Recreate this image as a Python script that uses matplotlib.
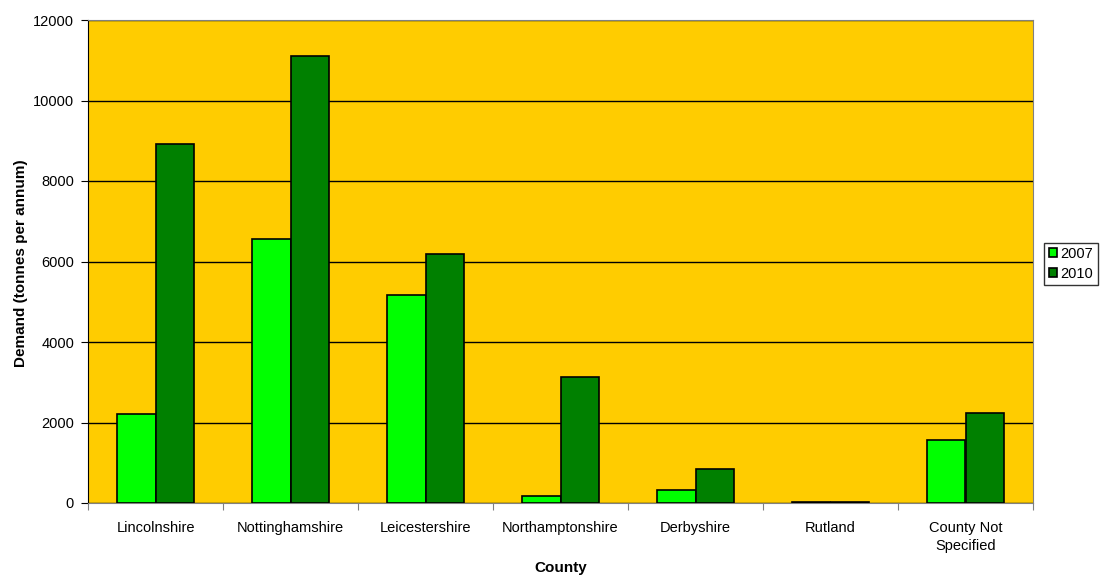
import numpy as np
import matplotlib.pyplot as plt

plt.rcParams['font.family'] = ['Liberation Sans', 'DejaVu Sans']

condados = ["Lincolnshire", "Nottinghamshire", "Leicestershire", "Northamptonshire",
            "Derbyshire", "Rutland", "County Not\nSpecified"]
demanda_2007 = [2200, 6570, 5170, 180, 330, 30, 1570]
demanda_2010 = [8910, 11100, 6180, 3120, 850, 20, 2230]

fig = plt.figure(figsize=(11.02, 5.79), dpi=100)
ax = fig.add_axes([88 / 1102, 1 - 503 / 579, 945 / 1102, 483 / 579])
ax.set_facecolor("#FFCC00")

x = np.arange(len(condados))
largura = 1 / 3.5                                      # gap de 150% entre grupos
ax.bar(x - largura / 2, demanda_2007, largura, color="#00FF00",
       edgecolor="black", linewidth=1.2, label="2007", zorder=3)
ax.bar(x + largura / 2, demanda_2010, largura, color="#008000",
       edgecolor="black", linewidth=1.2, label="2010", zorder=3)

ax.set_xlim(-0.5, len(condados) - 0.5)
ax.set_ylim(0, 12000)
ax.set_yticks(range(0, 12001, 2000))
ax.yaxis.grid(True, color="black", linewidth=1, zorder=1)

# marcas nas divisas das categorias, rótulos no centro
ax.set_xticks(np.arange(-0.5, len(condados), 1))
ax.set_xticklabels([])
ax.set_xticks(x, minor=True)
ax.set_xticklabels(condados, minor=True, fontsize=10.5, linespacing=1.35)
ax.tick_params(axis="x", which="minor", length=0, pad=13)
ax.tick_params(axis="x", which="major", length=5, color="#808080")
ax.tick_params(axis="y", length=5, labelsize=10.5, color="black", pad=5)

for lado in ["top", "right", "bottom"]:
    ax.spines[lado].set_color("#808080")
ax.spines["left"].set_color("black")

ax.set_xlabel("County", fontsize=11, fontweight="bold")
ax.xaxis.set_label_coords(0.5, -0.12)
ax.set_ylabel("Demand (tonnes per annum)", fontsize=11, fontweight="bold")
ax.yaxis.set_label_coords(-0.064, 0.497)

leg = ax.legend(loc="center left", bbox_to_anchor=(1.012, 0.495), fontsize=10.5,
                frameon=True, fancybox=False, edgecolor="black",
                handlelength=0.6, handleheight=0.6, handletextpad=0.2,
                borderpad=0.3, labelspacing=0.4, borderaxespad=0)
leg.get_frame().set_linewidth(1)

fig.savefig("out.png", dpi=100)
